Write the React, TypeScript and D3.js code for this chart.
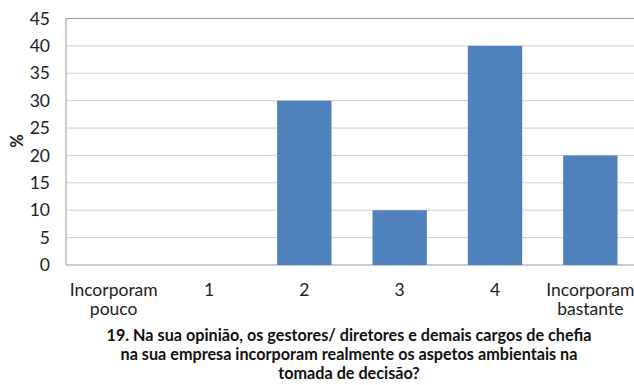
import React from "react";
import * as d3 from "d3";

const categories = ["Incorporam pouco", "1", "2", "3", "4", "Incorporam bastante"];
const values = [0, 0, 30, 10, 40, 20];
const yTicks = [0, 5, 10, 15, 20, 25, 30, 35, 40, 45];
const titleLines = [
  "19. Na sua opinião, os gestores/ diretores e demais cargos de chefia",
  "na sua empresa incorporam realmente os aspetos ambientais na",
  "tomada de decisão?",
];

export default function App() {
  const W = 634, H = 385;
  const left = 66, right = 638, top = 18.5, bottom = 265;
  const x = d3.scaleBand<string>().domain(categories).range([left, right]).paddingInner(0.43).paddingOuter(0.215);
  const y = d3.scaleLinear().domain([0, 45]).range([bottom, top]);
  const font = "Lato, 'Open Sans', sans-serif";
  const xc = d3.scaleBand<string>().domain(categories).range([left, right]);
  return (
    <svg width={W} height={H} style={{ position: "absolute", left: 0, top: 0, background: "#fff" }}>
      {yTicks.map((t) => (
        <g key={t}>
          <line x1={left} x2={right} y1={y(t)} y2={y(t)} stroke={t === 0 ? "#9a9a9a" : t === 45 ? "#999" : "#d0d0d0"} strokeWidth={1} />
          <text x={50} y={y(t)} dy="0.35em" textAnchor="end" fontFamily={font} fontSize={17.5} fill="#222">{t}</text>
        </g>
      ))}
      <line x1={left} x2={left} y1={top} y2={bottom} stroke="#9a9a9a" />
      {categories.map((c, i) => (
        <rect key={c} x={x(c)} y={y(values[i])} width={x.bandwidth()} height={bottom - y(values[i])} fill="#4F81BD" />
      ))}
      {categories.map((c) => {
        const words = c.split(" ");
        const cx = (xc(c) as number) + xc.bandwidth() / 2;
        return (
          <text key={c} x={cx} y={296} textAnchor="middle" fontFamily={font} fontSize={17.5} fill="#222">
            {words.map((w, j) => (
              <tspan key={j} x={cx} dy={j === 0 ? 0 : 19}>{w}</tspan>
            ))}
          </text>
        );
      })}
      <text transform="translate(23,141) rotate(-90)" textAnchor="middle" fontFamily={font} fontSize={16.5} fontWeight="bold" fill="#222">%</text>
      {titleLines.map((l, i) => (
        <text key={i} x={349} y={341 + i * 19} textAnchor="middle" fontFamily={font} fontSize={16.2} fontWeight="bold" fill="#111">{l}</text>
      ))}
    </svg>
  );
}
